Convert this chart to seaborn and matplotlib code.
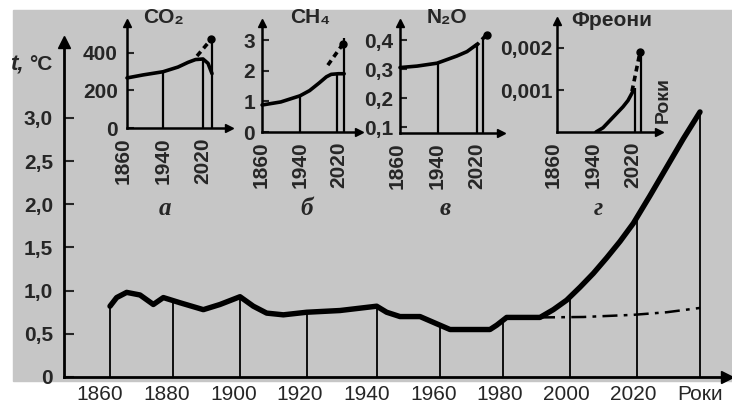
import numpy as np
import matplotlib
matplotlib.use('Agg')
import matplotlib.pyplot as plt
from matplotlib.patches import Rectangle
import seaborn as sns

sns.set_style('white')
plt.rcParams['font.family'] = ['Liberation Sans', 'DejaVu Sans']

W, H = 732, 415

# main chart: temperature, t °C
years = [1863, 1865, 1868, 1872, 1876, 1879, 1884, 1891, 1896, 1902, 1906, 1910, 1915, 1922,
         1932, 1943, 1946, 1950, 1956, 1962, 1965, 1977, 1979, 1982, 1992, 1996, 2000, 2004,
         2008, 2012, 2016, 2020, 2025, 2030, 2035, 2040]
temp = [0.82, 0.92, 0.98, 0.95, 0.84, 0.92, 0.86, 0.78, 0.84, 0.93, 0.82, 0.74, 0.72, 0.75,
        0.77, 0.82, 0.75, 0.70, 0.70, 0.60, 0.55, 0.55, 0.60, 0.69, 0.69, 0.78, 0.89, 1.04,
        1.20, 1.38, 1.57, 1.78, 2.10, 2.43, 2.76, 3.07]
fc_years = [1992, 2005, 2020, 2030, 2040]
fc_temp = [0.69, 0.695, 0.72, 0.75, 0.80]
drop_years = [1863, 1882, 1902, 1922, 1943, 1962, 1981, 2001, 2021, 2040]
x_tick_years = [1860, 1880, 1900, 1920, 1940, 1960, 1980, 2000, 2020, 2040]
x_tick_labels = ['1860', '1880', '1900', '1920', '1940', '1960', '1980', '2000', '2020', 'Роки']
y_ticks = [0, 0.5, 1.0, 1.5, 2.0, 2.5, 3.0]
y_tick_labels = ['0', '0,5', '1,0', '1,5', '2,0', '2,5', '3,0']

# insets
co2_years = [1868, 1900, 1940, 1970, 1990, 2005, 2020, 2030, 2038]
co2_vals = [267, 283, 300, 325, 350, 365, 368, 345, 290]
co2_fc_years = [2008, 2036]
co2_fc_vals = [384, 472]
co2_drop_years = [1940, 2020, 2038]
co2_drop_tops = [300, 368, 480]

ch4_years = [1861, 1900, 1940, 1960, 1980, 1995, 2005, 2020, 2032]
ch4_vals = [0.88, 0.98, 1.18, 1.35, 1.60, 1.80, 1.88, 1.90, 1.90]
ch4_fc_years = [1998, 2029]
ch4_fc_vals = [2.18, 2.86]
ch4_drop_years = [1940, 2017, 2031]
ch4_drop_tops = [1.18, 1.90, 3.05]

n2o_years = [1866, 1900, 1940, 1980, 2000, 2020]
n2o_vals = [0.305, 0.31, 0.32, 0.345, 0.36, 0.385]
n2o_fc_years = [2016, 2039]
n2o_fc_vals = [0.376, 0.418]
n2o_drop_years = [1942, 2020, 2032]
n2o_drop_tops = [0.32, 0.385, 0.405]

cfc_years = [1946, 1960, 1980, 2000, 2010, 2020]
cfc_vals = [0.0, 0.0001, 0.00035, 0.0006, 0.00075, 0.00097]
cfc_fc_years = [2018, 2034]
cfc_fc_vals = [0.00097, 0.0019]
cfc_drop_years = [2024, 2036]
cfc_drop_tops = [0.00105, 0.0019]


def px_axes(fig, left, right, top, bottom):
    ax = fig.add_axes([left / W, 1 - bottom / H, (right - left) / W, (bottom - top) / H])
    ax.set_facecolor('none')
    return ax


fig = plt.figure(figsize=(W / 100, H / 100), dpi=100)
fig.add_artist(Rectangle((13 / W, 1 - 381 / H), (W - 13) / W, 371 / H,
                         transform=fig.transFigure, color='#c6c6c6', zorder=-10))

# ---- main axes ----
ax = px_axes(fig, 64, 727, 42, 377)
sns.lineplot(x=years, y=temp, ax=ax, color='k', lw=3.9, solid_joinstyle='round', solid_capstyle='round')
sns.lineplot(x=fc_years, y=fc_temp, ax=ax, color='k', lw=1.8, linestyle=(0, (6, 2.5, 1.5, 2.5)))
ax.vlines(drop_years, 0, np.interp(drop_years, years, temp), color='k', lw=1.3)
ax.set_xlim(1849.2, 2048.1)
ax.set_ylim(0, 3.88)
for s in ['top', 'right']:
    ax.spines[s].set_visible(False)
for s in ['left', 'bottom']:
    ax.spines[s].set_linewidth(2)
    ax.spines[s].set_color('k')
ax.plot([2048.1], [0], marker='>', color='k', ms=8, clip_on=False)
ax.plot([1849.2], [3.88], marker='^', color='k', ms=8, clip_on=False)
ax.set_xticks(x_tick_years)
ax.set_xticklabels(x_tick_labels, fontsize=15)
ax.set_yticks(y_ticks)
ax.set_yticklabels(y_tick_labels, fontsize=15, fontweight='bold')
ax.tick_params(axis='x', length=0, pad=6)
ax.tick_params(axis='y', direction='in', length=7, width=1.5, pad=8, left=True)
ax.set_xlabel('')
ax.set_ylabel('')

fig.text(10 / W, 1 - 65 / H, 't,', fontsize=16, fontweight='bold', style='italic', va='center')
fig.text(29 / W, 1 - 65 / H, '°C', fontsize=15, fontweight='bold', va='center')


def make_inset(xref, xpx, xscale, xlim, spine_year, ymap, ylim, yticks, ylabels, ypad):
    v1, p1, v2, p2 = ymap
    k = (p1 - p2) / (v2 - v1)
    left = xpx + (xlim[0] - xref) * xscale
    right = xpx + (xlim[1] - xref) * xscale
    top = p1 - (ylim[1] - v1) * k
    bottom = p1 - (ylim[0] - v1) * k
    a = px_axes(fig, left, right, top, bottom)
    a.set_xlim(*xlim)
    a.set_ylim(*ylim)
    a.spines['top'].set_visible(False)
    a.spines['right'].set_visible(False)
    a.spines['left'].set_position(('data', spine_year))
    a.spines['bottom'].set_bounds(spine_year, xlim[1])
    for s in ['left', 'bottom']:
        a.spines[s].set_linewidth(1.8)
        a.spines[s].set_color('k')
    a.plot([xlim[1]], [ylim[0]], marker='>', color='k', ms=6, clip_on=False)
    a.plot([spine_year], [ylim[1]], marker='^', color='k', ms=6, clip_on=False)
    a.set_xticks([1860, 1940, 2020])
    a.set_xticklabels(['1860', '1940', '2020'], rotation=90, fontsize=15, fontweight='bold')
    a.set_yticks(yticks)
    a.set_yticklabels(ylabels, fontsize=15, fontweight='bold')
    a.tick_params(axis='x', length=0, pad=7)
    a.tick_params(axis='y', direction='in', length=5, width=1.5, pad=ypad, left=True)
    return a


def draw_gas(a, yrs, vals, fyrs, fvals, dyrs, dtops):
    sns.lineplot(x=yrs, y=vals, ax=a, color='k', lw=2.6, solid_joinstyle='round')
    sns.lineplot(x=fyrs, y=fvals, ax=a, color='k', lw=2.6, linestyle=(0, (1.6, 1.2)))
    a.plot(fyrs[-1:], fvals[-1:], marker='o', color='k', ms=5)
    a.vlines(dyrs, a.get_ylim()[0], dtops, color='k', lw=1.6)
    a.set_xlabel('')
    a.set_ylabel('')


a1 = make_inset(1940, 163, 0.5, (1856, 2072), 1868, (0, 128, 400, 53), (0, 560),
                [0, 200, 400], ['0', '200', '400'], 6.5)
draw_gas(a1, co2_years, co2_vals, co2_fc_years, co2_fc_vals, co2_drop_years, co2_drop_tops)

a2 = make_inset(1940, 300, 0.48, (1855, 2062), 1861, (0, 132, 3, 40), (0, 3.55),
                [0, 1, 2, 3], ['0', '1', '2', '3'], 5)
draw_gas(a2, ch4_years, ch4_vals, ch4_fc_years, ch4_fc_vals, ch4_drop_years, ch4_drop_tops)

a3 = make_inset(1940, 437, 0.5, (1858, 2068), 1866, (0.1, 127, 0.4, 40), (0.079, 0.459),
                [0.1, 0.2, 0.3, 0.4], ['0,1', '0,2', '0,3', '0,4'], 5)
draw_gas(a3, n2o_years, n2o_vals, n2o_fc_years, n2o_fc_vals, n2o_drop_years, n2o_drop_tops)

a4 = make_inset(1940, 593, 0.5, (1858, 2072), 1868, (0, 132, 0.002, 48), (0, 0.00265),
                [0.001, 0.002], ['0,001', '0,002'], 3.5)
draw_gas(a4, cfc_years, cfc_vals, cfc_fc_years, cfc_fc_vals, cfc_drop_years, cfc_drop_tops)

# inset titles and letters
for txt, x, y in [('CO₂', 164, 17), ('CH₄', 310, 18), ('N₂O', 447, 18), ('Фреони', 612, 20)]:
    fig.text(x / W, 1 - y / H, txt, ha='center', va='center', fontsize=15, fontweight='bold')
fig.text(663 / W, 1 - 100 / H, 'Роки', rotation=90, ha='center', va='center',
         fontsize=14, fontweight='bold')
for txt, x in [('а', 165), ('б', 307), ('в', 445), ('г', 598)]:
    fig.text(x / W, 1 - 208 / H, txt, ha='center', va='center', fontsize=18,
             family='Liberation Serif', style='italic', fontweight='bold')

fig.savefig('out.png', dpi=100)
